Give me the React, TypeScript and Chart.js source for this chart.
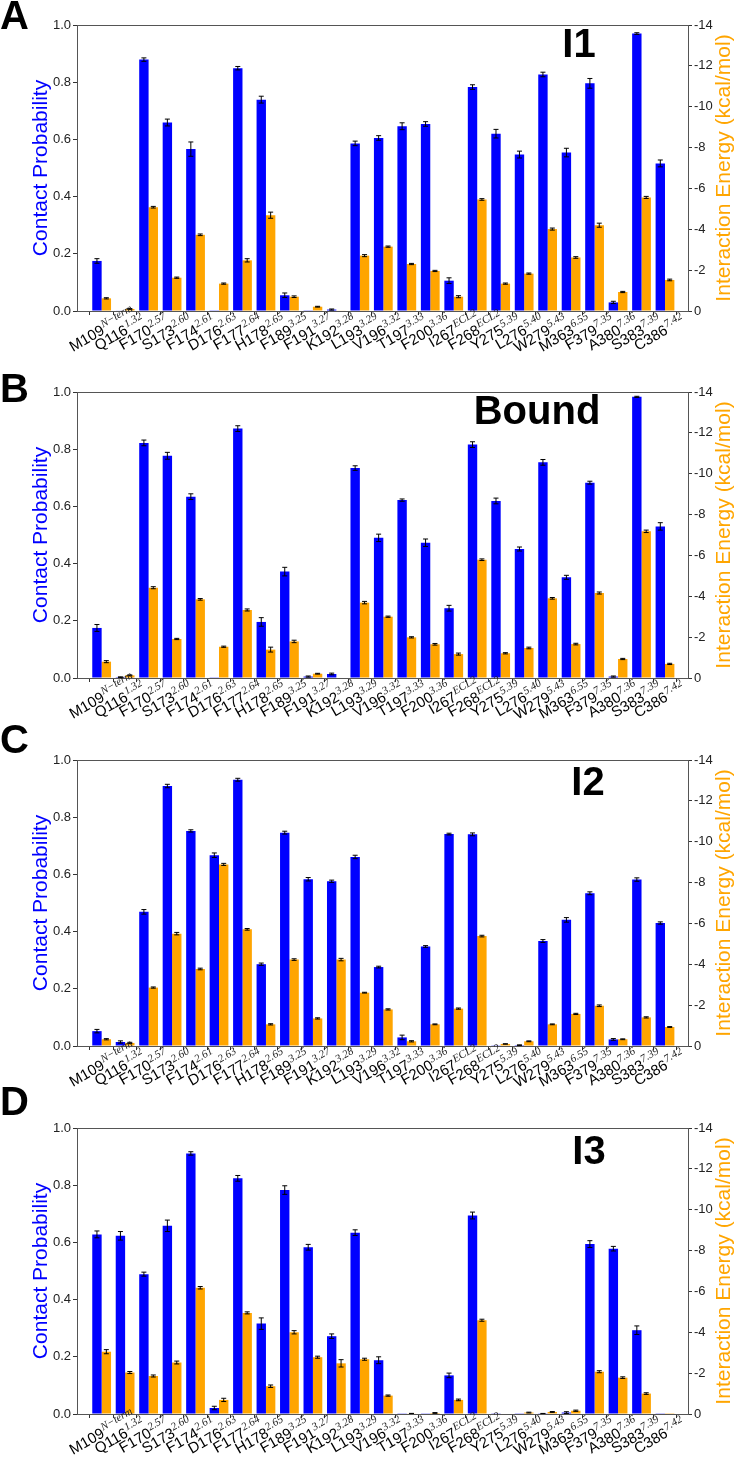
import React, { useEffect, useRef } from "react";
import { Chart, registerables } from "chart.js";

Chart.register(...registerables);

// ---------- data ----------
const residues = ["M109", "Q116", "F170", "S173", "F174", "D176", "F177", "H178", "F189", "F191", "K192", "L193", "V196", "T197", "F200", "I267", "F268", "Y275", "L276", "W279", "M363", "F379", "A380", "S383", "C386"];
const bwNumbers = ["N\u2212term", "1.32", "2.57", "2.60", "2.61", "2.63", "2.64", "2.65", "3.25", "3.27", "3.28", "3.29", "3.32", "3.33", "3.36", "ECL2", "ECL2", "5.39", "5.40", "5.43", "6.55", "7.35", "7.36", "7.39", "7.42"];

const probI1 = [0.175, 0.002, 0.879, 0.659, 0.566, 0.001, 0.849, 0.739, 0.055, 0.001, 0.005, 0.586, 0.605, 0.646, 0.654, 0.106, 0.783, 0.620, 0.547, 0.827, 0.554, 0.796, 0.030, 0.970, 0.516];
const probErrI1 = [0.008, 0, 0.006, 0.012, 0.025, 0, 0.006, 0.012, 0.008, 0, 0.002, 0.008, 0.008, 0.012, 0.008, 0.01, 0.008, 0.015, 0.012, 0.008, 0.015, 0.017, 0.004, 0.003, 0.012];
const energyI1 = [-0.62, -0.10, -5.08, -1.63, -3.73, -1.34, -2.48, -4.69, -0.70, -0.21, -0.02, -2.71, -3.15, -2.30, -1.96, -0.70, -5.46, -1.34, -1.83, -4.01, -2.62, -4.20, -0.93, -5.56, -1.52];
const energyErrI1 = [0.03, 0.02, 0.04, 0.03, 0.04, 0.03, 0.08, 0.15, 0.04, 0.02, 0, 0.05, 0.03, 0.03, 0.03, 0.05, 0.04, 0.03, 0.03, 0.05, 0.04, 0.1, 0.03, 0.05, 0.04];

const probBound = [0.175, 0.003, 0.822, 0.777, 0.634, 0.001, 0.872, 0.196, 0.372, 0.005, 0.014, 0.734, 0.490, 0.622, 0.473, 0.244, 0.816, 0.619, 0.451, 0.754, 0.352, 0.683, 0.005, 0.983, 0.530];
const probErrBound = [0.012, 0.001, 0.01, 0.012, 0.01, 0, 0.01, 0.015, 0.015, 0.002, 0.003, 0.008, 0.013, 0.004, 0.013, 0.01, 0.01, 0.01, 0.007, 0.01, 0.007, 0.005, 0.002, 0.002, 0.013];
const energyBound = [-0.80, -0.13, -4.42, -1.91, -3.85, -1.53, -3.33, -1.39, -1.79, -0.21, 0, -3.69, -3.00, -1.99, -1.65, -1.17, -5.79, -1.21, -1.47, -3.90, -1.66, -4.16, -0.93, -7.18, -0.69];
const energyErrBound = [0.05, 0.02, 0.05, 0.03, 0.04, 0.03, 0.05, 0.12, 0.06, 0.02, 0, 0.06, 0.03, 0.03, 0.04, 0.05, 0.04, 0.03, 0.04, 0.04, 0.04, 0.05, 0.03, 0.06, 0.03];

const probI2 = [0.052, 0.014, 0.469, 0.909, 0.752, 0.667, 0.931, 0.286, 0.746, 0.583, 0.576, 0.661, 0.276, 0.030, 0.348, 0.741, 0.740, 0.001, 0.003, 0.367, 0.441, 0.534, 0.023, 0.582, 0.430];
const probErrI2 = [0.006, 0.004, 0.008, 0.006, 0.004, 0.008, 0.005, 0.004, 0.005, 0.006, 0.004, 0.006, 0.003, 0.008, 0.003, 0.003, 0.005, 0, 0.001, 0.005, 0.008, 0.005, 0.003, 0.006, 0.004];
const energyI2 = [-0.33, -0.15, -2.86, -5.50, -3.77, -8.89, -5.71, -1.06, -4.23, -1.35, -4.23, -2.61, -1.79, -0.23, -1.06, -1.83, -5.38, -0.10, -0.23, -1.06, -1.57, -1.97, -0.33, -1.40, -0.93];
const energyErrI2 = [0.03, 0.03, 0.03, 0.06, 0.04, 0.05, 0.04, 0.03, 0.04, 0.03, 0.06, 0.02, 0.03, 0.03, 0.02, 0.03, 0.04, 0.01, 0.02, 0.02, 0.03, 0.04, 0.02, 0.03, 0.02];

const probI3 = [0.628, 0.623, 0.489, 0.658, 0.911, 0.021, 0.824, 0.316, 0.783, 0.583, 0.272, 0.634, 0.188, 0.001, 0.001, 0.135, 0.694, 0.001, 0.001, 0.001, 0.005, 0.594, 0.578, 0.293, 0.001];
const probErrI3 = [0.012, 0.015, 0.007, 0.02, 0.006, 0.006, 0.01, 0.02, 0.015, 0.01, 0.008, 0.01, 0.012, 0, 0, 0.008, 0.012, 0, 0, 0.001, 0.003, 0.012, 0.008, 0.015, 0];
const energyI3 = [-3.05, -2.03, -1.86, -2.52, -6.18, -0.69, -4.95, -1.36, -4.00, -2.78, -2.48, -2.68, -0.90, -0.02, -0.05, -0.69, -4.59, 0, -0.07, -0.10, -0.16, -2.07, -1.78, -1.00, -0.01];
const energyErrI3 = [0.1, 0.05, 0.05, 0.07, 0.06, 0.08, 0.05, 0.06, 0.08, 0.05, 0.18, 0.05, 0.03, 0.01, 0.02, 0.04, 0.05, 0, 0.02, 0.02, 0.03, 0.05, 0.04, 0.04, 0];

const probTickStep = 0.2;
const energyTickStep = 2;

// ---------- layout ----------
const W = 735;
const PLOT_LEFT = 77;
const PLOT_RIGHT = 688;
const PLOT_TOP = 25;
const PLOT_H = 286;
const FONT = '"Liberation Sans", Arial, Helvetica, sans-serif';
const BLUE = "#0000ff";
const ORANGE = "#ffa500";

type PanelDef = {
  letter: string;
  title: string;
  prob: number[];
  probErr: number[];
  energy: number[];
  energyErr: number[];
  top: number;
  height: number;
  letterBaseline: number;
  titleX: number;
  titleY: number;
};

const panels: PanelDef[] = [
  { letter: "A", title: "I1", prob: probI1, probErr: probErrI1, energy: energyI1, energyErr: energyErrI1, top: 0, height: 367, letterBaseline: 29, titleX: 579, titleY: 43 },
  { letter: "B", title: "Bound", prob: probBound, probErr: probErrBound, energy: energyBound, energyErr: energyErrBound, top: 367, height: 368, letterBaseline: 402, titleX: 537, titleY: 43 },
  { letter: "C", title: "I2", prob: probI2, probErr: probErrI2, energy: energyI2, energyErr: energyErrI2, top: 735, height: 368, letterBaseline: 753, titleX: 588, titleY: 46 },
  { letter: "D", title: "I3", prob: probI3, probErr: probErrI3, energy: energyI3, energyErr: energyErrI3, top: 1103, height: 361, letterBaseline: 1115, titleX: 589, titleY: 47 },
];

const decorPlugin = {
  id: "decor",
  afterDatasetsDraw(chart: any, _args: any, opts: any) {
    const ctx = chart.ctx;
    ctx.save();
    ctx.strokeStyle = "#000";
    ctx.lineWidth = 1;
    [0, 1].forEach((di) => {
      const meta = chart.getDatasetMeta(di);
      const scale = chart.scales[meta.yAxisID];
      const vals = chart.data.datasets[di].data;
      const errs: number[] = di === 0 ? opts.probErr : opts.energyErr;
      meta.data.forEach((bar: any, j: number) => {
        const v = vals[j].y;
        const e = errs[j];
        if (!e) return;
        const y1 = scale.getPixelForValue(v - e);
        const y2 = scale.getPixelForValue(v + e);
        const x = bar.x;
        ctx.beginPath();
        ctx.moveTo(x, y1);
        ctx.lineTo(x, y2);
        ctx.moveTo(x - 2.5, y1);
        ctx.lineTo(x + 2.5, y1);
        ctx.moveTo(x - 2.5, y2);
        ctx.lineTo(x + 2.5, y2);
        ctx.stroke();
      });
    });
    ctx.restore();
  },
  afterDraw(chart: any, _args: any, opts: any) {
    const ctx = chart.ctx;
    const a = chart.chartArea;
    ctx.save();
    // frame
    ctx.strokeStyle = "#555";
    ctx.lineWidth = 1;
    ctx.strokeRect(Math.round(a.left) + 0.5, Math.round(a.top) + 0.5, Math.round(a.right - a.left), Math.round(a.bottom - a.top));
    // axis titles
    const midY = (a.top + a.bottom) / 2;
    ctx.font = `21px ${FONT}`;
    ctx.textAlign = "center";
    ctx.textBaseline = "middle";
    ctx.save();
    ctx.translate(41, midY);
    ctx.rotate(-Math.PI / 2);
    ctx.fillStyle = BLUE;
    ctx.fillText("Contact Probability", 0, 0);
    ctx.restore();
    ctx.save();
    ctx.translate(724, midY);
    ctx.rotate(-Math.PI / 2);
    ctx.fillStyle = ORANGE;
    ctx.fillText("Interaction Energy (kcal/mol)", 0, 0);
    ctx.restore();
    // panel title
    ctx.font = `bold 40px ${FONT}`;
    ctx.fillStyle = "#000";
    ctx.textAlign = "center";
    ctx.textBaseline = "alphabetic";
    ctx.fillText(opts.title, opts.titleX, opts.titleY + 14);
    // x labels (residue + superscript position number), rotated 30 degrees
    const xs = chart.scales.x;
    const mainSize = 15;
    residues.forEach((r, i) => {
      const px = xs.getPixelForValue(i);
      ctx.save();
      ctx.translate(px - 2, a.bottom + 12);
      ctx.rotate(-Math.PI / 6);
      ctx.fillStyle = "#000";
      ctx.font = `${mainSize}px ${FONT}`;
      ctx.textAlign = "right";
      ctx.textBaseline = "alphabetic";
      const base = mainSize * 0.78;
      ctx.fillText(r, 0, base);
      ctx.font = `italic 11px "Liberation Serif", "DejaVu Serif", serif`;
      ctx.textAlign = "left";
      ctx.fillStyle = "#222";
      ctx.fillText(bwNumbers[i], 0.5, base - 6);
      ctx.restore();
    });
    ctx.restore();
  },
};

function Panel({ def }: { def: PanelDef }) {
  const ref = useRef<HTMLCanvasElement | null>(null);
  useEffect(() => {
    const canvas = ref.current;
    if (!canvas) return;
    const xAxisHeight = def.height - PLOT_TOP - PLOT_H;
    const chart = new Chart(canvas, {
      type: "bar",
      data: {
        datasets: [
          {
            label: "Contact Probability",
            data: def.prob.map((v, i) => ({ x: i, y: v })),
            backgroundColor: BLUE,
            yAxisID: "y",
            categoryPercentage: 0.8,
            barPercentage: 1.0,
          },
          {
            label: "Interaction Energy",
            data: def.energy.map((v, i) => ({ x: i, y: v })),
            backgroundColor: ORANGE,
            yAxisID: "y1",
            categoryPercentage: 0.8,
            barPercentage: 1.0,
          },
        ],
      } as any,
      options: {
        responsive: false,
        animation: false,
        devicePixelRatio: 1,
        layout: { padding: { top: PLOT_TOP, left: 0, right: 0, bottom: 0 } },
        plugins: {
          legend: { display: false },
          tooltip: { enabled: false },
          decor: { title: def.title, titleX: def.titleX, titleY: def.titleY, probErr: def.probErr, energyErr: def.energyErr },
        } as any,
        scales: {
          x: {
            type: "linear",
            min: -1.05,
            max: 24.98,
            offset: false,
            afterBuildTicks: (scale: any) => {
              scale.ticks = residues.map((_, i) => ({ value: i }));
            },
            afterFit: (scale: any) => {
              scale.height = xAxisHeight;
            },
            ticks: { display: false },
            grid: { drawOnChartArea: false, drawTicks: true, tickLength: 4, color: "#333" },
            border: { display: false },
          },
          y: {
            type: "linear",
            position: "left",
            min: 0,
            max: 1,
            ticks: {
              stepSize: probTickStep,
              padding: 2,
              color: "#222",
              font: { family: FONT, size: 13 },
              callback: (v: any) => Number(v).toFixed(1),
            },
            afterFit: (scale: any) => {
              scale.width = PLOT_LEFT;
            },
            grid: { drawOnChartArea: false, drawTicks: true, tickLength: 4, color: "#333" },
            border: { display: false },
          },
          y1: {
            type: "linear",
            position: "right",
            min: -14,
            max: 0,
            reverse: true,
            ticks: {
              stepSize: energyTickStep,
              padding: 2,
              color: "#222",
              font: { family: FONT, size: 13 },
              callback: (v: any) => String(Math.round(Number(v))),
            },
            afterFit: (scale: any) => {
              scale.width = W - PLOT_RIGHT;
            },
            grid: { drawOnChartArea: false, drawTicks: true, tickLength: 4, color: "#333" },
            border: { display: false },
          },
        },
      } as any,
      plugins: [decorPlugin as any],
    });
    return () => chart.destroy();
  }, [def]);

  return (
    <canvas
      ref={ref}
      width={W}
      height={def.height}
      style={{ position: "absolute", left: 0, top: def.top, width: W, height: def.height }}
    />
  );
}

export default function App() {
  return (
    <div style={{ position: "absolute", left: 0, top: 0, width: W, height: 1464, background: "#fff", overflow: "hidden" }}>
      {panels.map((p) => (
        <Panel key={p.letter} def={p} />
      ))}
      {panels.map((p) => (
        <div
          key={"L" + p.letter}
          style={{
            position: "absolute",
            left: 0,
            top: p.letterBaseline - 34,
            fontFamily: FONT,
            fontWeight: "bold",
            fontSize: 40,
            lineHeight: "40px",
            color: "#000",
          }}
        >
          {p.letter}
        </div>
      ))}
    </div>
  );
}
